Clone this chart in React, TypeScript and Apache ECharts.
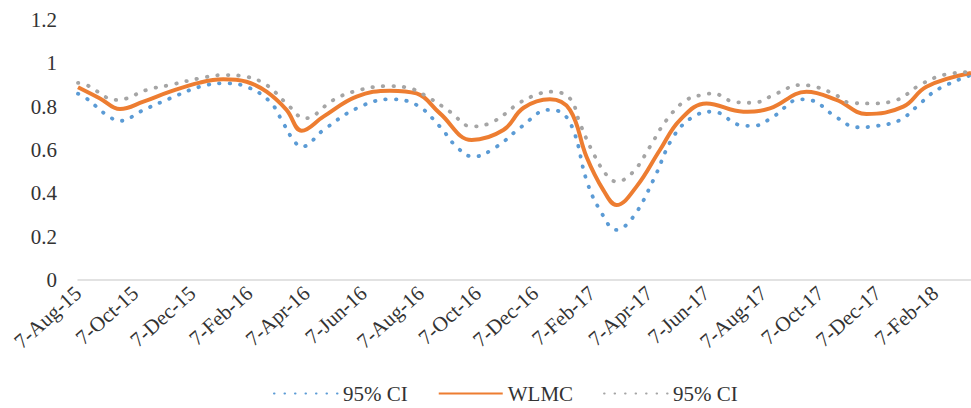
import React, { useEffect, useRef } from "react";
import * as echarts from "echarts";

// x positions are months elapsed since 7-Aug-15
const xTickLabels = [
  "7-Aug-15", "7-Oct-15", "7-Dec-15", "7-Feb-16", "7-Apr-16", "7-Jun-16",
  "7-Aug-16", "7-Oct-16", "7-Dec-16", "7-Feb-17", "7-Apr-17", "7-Jun-17",
  "7-Aug-17", "7-Oct-17", "7-Dec-17", "7-Feb-18",
];

const wlmcX = [0, 0.77, 1.47, 2.29, 3.22, 4.27, 5.08, 5.9, 6.6, 7.3, 7.83, 8.59, 9.75, 10.92, 11.85, 12.67, 13.78, 14.89, 15.6, 16.52, 17.22, 17.8, 18.39, 18.85, 19.55, 20.37, 21.07, 22.0, 23.29, 24.22, 25.5, 26.55, 27.6, 28.89, 29.7, 31.26];
const wlmcY = [0.89, 0.838, 0.789, 0.823, 0.869, 0.911, 0.926, 0.915, 0.869, 0.785, 0.689, 0.754, 0.846, 0.874, 0.861, 0.769, 0.646, 0.692, 0.795, 0.834, 0.785, 0.569, 0.415, 0.346, 0.431, 0.6, 0.738, 0.815, 0.777, 0.792, 0.869, 0.831, 0.766, 0.8, 0.892, 0.955];

const lowerX = [0, 0.25, 1.12, 1.53, 2.17, 3.22, 4.27, 5.09, 5.9, 6.72, 7.19, 7.54, 7.83, 8.59, 9.75, 10.92, 11.85, 12.67, 13.25, 13.84, 14.65, 15.53, 16.46, 16.87, 17.34, 17.8, 18.27, 18.85, 19.44, 20.14, 20.84, 21.54, 22.24, 23.17, 23.64, 24.34, 25.27, 25.62, 26.55, 27.26, 27.96, 28.77, 29.36, 30.06, 31.26];
const lowerY = [0.86, 0.843, 0.751, 0.735, 0.777, 0.838, 0.892, 0.908, 0.892, 0.823, 0.723, 0.646, 0.615, 0.692, 0.792, 0.834, 0.808, 0.708, 0.615, 0.569, 0.615, 0.708, 0.785, 0.777, 0.692, 0.461, 0.323, 0.231, 0.292, 0.461, 0.661, 0.754, 0.777, 0.715, 0.711, 0.754, 0.834, 0.831, 0.751, 0.705, 0.711, 0.738, 0.8, 0.877, 0.946];

const upperX = [0, 0.3, 1.35, 1.7, 2.4, 3.22, 4.27, 5.09, 5.9, 6.6, 7.3, 7.95, 8.94, 9.64, 10.8, 11.5, 12.32, 13.02, 13.78, 14.54, 15.47, 16.17, 16.58, 17.22, 17.57, 18.04, 18.5, 18.85, 19.44, 20.02, 20.6, 21.3, 22.0, 22.24, 22.94, 23.64, 24.45, 25.27, 25.62, 26.44, 27.02, 27.72, 28.66, 29.47, 30.29, 31.26];
const upperY = [0.91, 0.9, 0.831, 0.838, 0.877, 0.9, 0.931, 0.946, 0.938, 0.9, 0.815, 0.746, 0.831, 0.869, 0.895, 0.889, 0.838, 0.777, 0.708, 0.731, 0.819, 0.861, 0.869, 0.838, 0.723, 0.585, 0.485, 0.454, 0.5, 0.615, 0.738, 0.831, 0.858, 0.861, 0.823, 0.818, 0.861, 0.9, 0.897, 0.861, 0.818, 0.815, 0.831, 0.9, 0.946, 0.961];

const seriesNames = ["95% CI", "WLMC", "95% CI "];

const zip = (xs: number[], ys: number[]) => xs.map((x, i) => [x, ys[i]]);

export default function App() {
  const ref = useRef<HTMLDivElement>(null);
  useEffect(() => {
    if (!ref.current) return;
    const chart = echarts.init(ref.current, undefined, { renderer: "svg" });
    const font = "serif";
    const dotted = (color: string) => ({
      color,
      width: 3.8,
      type: [0.5, 10] as number[],
      cap: "round" as const,
    });
    chart.setOption({
      animation: false,
      textStyle: { fontFamily: font },
      grid: { left: 78, right: 0, top: 20, bottom: 128, containLabel: false },
      legend: {
        left: 268,
        top: 378,
        itemWidth: 64,
        itemHeight: 14,
        itemGap: 30,
        itemStyle: { opacity: 0 },
        textStyle: { fontFamily: font, fontSize: 21, color: "#333" },
        data: seriesNames,
      },
      xAxis: {
        type: "value",
        min: 0,
        max: 31.26,
        interval: 2,
        axisLine: { lineStyle: { color: "#d9d9d9", width: 1.5 } },
        axisTick: { show: false },
        splitLine: { show: false },
        axisLabel: {
          rotate: 42,
          margin: 10,
          fontFamily: font,
          fontSize: 21,
          color: "#333",
          showMaxLabel: false,
          formatter: (v: number) => {
            const k = Math.round(v / 2);
            return Math.abs(v - k * 2) < 1e-6 && k < xTickLabels.length ? xTickLabels[k] : "";
          },
        },
      },
      yAxis: {
        type: "value",
        min: 0,
        max: 1.2,
        interval: 0.2,
        axisLine: { show: false },
        axisTick: { show: false },
        splitLine: { show: false },
        axisLabel: {
          margin: 21,
          fontFamily: font,
          fontSize: 21,
          color: "#333",
          formatter: (v: number) => String(+v.toFixed(1)),
        },
      },
      series: [
        {
          name: seriesNames[0],
          type: "line",
          smooth: 0.4,
          symbol: "none",
          lineStyle: dotted("#5B9BD5"),
          itemStyle: { color: "#5B9BD5" },
          data: zip(lowerX, lowerY),
        },
        {
          name: seriesNames[1],
          type: "line",
          smooth: 0.4,
          symbol: "none",
          lineStyle: { color: "#ED7D31", width: 4 },
          itemStyle: { color: "#ED7D31" },
          data: zip(wlmcX, wlmcY),
        },
        {
          name: seriesNames[2],
          type: "line",
          smooth: 0.4,
          symbol: "none",
          lineStyle: dotted("#A5A5A5"),
          itemStyle: { color: "#A5A5A5" },
          data: zip(upperX, upperY),
        },
      ],
    });
    return () => chart.dispose();
  }, []);
  return (
    <div
      ref={ref}
      style={{ position: "absolute", left: 0, top: 0, width: 971, height: 408, background: "#fff" }}
    />
  );
}
